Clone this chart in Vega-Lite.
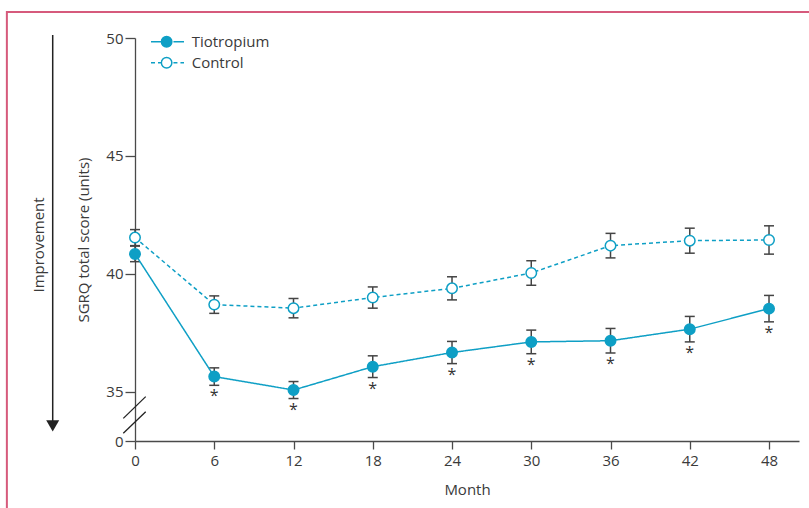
{
  "$schema": "https://vega.github.io/schema/vega-lite/v6.json",
  "width": 664,
  "height": 403,
  "autosize": {"type": "none"},
  "padding": {"left": 135, "top": 38, "right": 10, "bottom": 67},
  "background": "white",
  "config": {
    "font": "Open Sans",
    "view": {"stroke": null},
    "axis": {
      "grid": false,
      "domainColor": "#4a4a4a",
      "tickColor": "#4a4a4a",
      "domainWidth": 1.3,
      "tickWidth": 1.3,
      "labelFontSize": 15,
      "labelColor": "#3a3a3a",
      "titleFontSize": 15,
      "titleFontWeight": "normal",
      "titleColor": "#3a3a3a"
    }
  },
  "data": {
    "values": [
      {"month": 0, "group": "Tiotropium", "mean": 40.85, "lo": 40.52, "hi": 41.18, "star": ""},
      {"month": 6, "group": "Tiotropium", "mean": 35.65, "lo": 35.28, "hi": 36.02, "star": "*"},
      {"month": 12, "group": "Tiotropium", "mean": 35.08, "lo": 34.72, "hi": 35.44, "star": "*"},
      {"month": 18, "group": "Tiotropium", "mean": 36.07, "lo": 35.61, "hi": 36.53, "star": "*"},
      {"month": 24, "group": "Tiotropium", "mean": 36.67, "lo": 36.2, "hi": 37.14, "star": "*"},
      {"month": 30, "group": "Tiotropium", "mean": 37.12, "lo": 36.62, "hi": 37.62, "star": "*"},
      {"month": 36, "group": "Tiotropium", "mean": 37.17, "lo": 36.65, "hi": 37.69, "star": "*"},
      {"month": 42, "group": "Tiotropium", "mean": 37.66, "lo": 37.12, "hi": 38.2, "star": "*"},
      {"month": 48, "group": "Tiotropium", "mean": 38.53, "lo": 37.97, "hi": 39.09, "star": "*"},
      {"month": 0, "group": "Control", "mean": 41.54, "lo": 41.2, "hi": 41.88, "star": ""},
      {"month": 6, "group": "Control", "mean": 38.7, "lo": 38.33, "hi": 39.07, "star": ""},
      {"month": 12, "group": "Control", "mean": 38.55, "lo": 38.14, "hi": 38.96, "star": ""},
      {"month": 18, "group": "Control", "mean": 39.0, "lo": 38.55, "hi": 39.45, "star": ""},
      {"month": 24, "group": "Control", "mean": 39.39, "lo": 38.9, "hi": 39.88, "star": ""},
      {"month": 30, "group": "Control", "mean": 40.04, "lo": 39.52, "hi": 40.56, "star": ""},
      {"month": 36, "group": "Control", "mean": 41.2, "lo": 40.68, "hi": 41.72, "star": ""},
      {"month": 42, "group": "Control", "mean": 41.41, "lo": 40.88, "hi": 41.94, "star": ""},
      {"month": 48, "group": "Control", "mean": 41.44, "lo": 40.84, "hi": 42.04, "star": ""}
    ]
  },
  "layer": [
    {
      "data": {"values": [{}]},
      "mark": {"type": "rect", "fill": null, "stroke": "#d65a7c", "strokeWidth": 2, "clip": false},
      "encoding": {
        "x": {"datum": -9.7, "type": "quantitative", "scale": {"domain": [0, 50.27], "nice": false, "zero": false}, "axis": {"values": [0, 6, 12, 18, 24, 30, 36, 42, 48], "title": "Month", "tickSize": 8, "labelPadding": 4, "titlePadding": 14, "labelAngle": 0, "labelFlush": false}},
        "x2": {"datum": 80},
        "y": {"datum": 51.1, "type": "quantitative", "scale": {"domain": [32.92, 50], "nice": false, "zero": false}, "axis": {"values": [32.92, 35, 40, 45, 50], "labelExpr": "datum.value < 34 ? '0' : datum.label", "title": "SGRQ total score (units)", "tickSize": 10, "labelPadding": 2, "titlePadding": 14}},
        "y2": {"datum": 20}
      }
    },
    {
      "data": {"values": [{}]},
      "mark": {"type": "rule", "color": "#222222", "strokeWidth": 1.5, "clip": false},
      "encoding": {
        "x": {"datum": -6.23, "type": "quantitative"},
        "y": {"datum": 50.13, "type": "quantitative"},
        "y2": {"datum": 33.7}
      }
    },
    {
      "data": {"values": [{}]},
      "mark": {"type": "point", "shape": "triangle-down", "filled": true, "color": "#222222", "size": 169, "opacity": 1, "clip": false},
      "encoding": {
        "x": {"datum": -6.23, "type": "quantitative"},
        "y": {"datum": 33.56, "type": "quantitative"}
      }
    },
    {
      "data": {"values": [{}]},
      "mark": {"type": "text", "text": "Improvement", "angle": 270, "align": "center", "baseline": "middle", "fontSize": 15, "color": "#3a3a3a", "clip": false},
      "encoding": {
        "x": {"datum": -7.3, "type": "quantitative"},
        "y": {"datum": 41.23, "type": "quantitative"}
      }
    },
    {
      "data": {"values": [{}]},
      "mark": {"type": "rule", "color": "#222222", "strokeWidth": 1.3, "clip": false},
      "encoding": {
        "x": {"datum": -0.886, "type": "quantitative"},
        "y": {"datum": 33.88, "type": "quantitative"},
        "x2": {"datum": 0.81},
        "y2": {"datum": 34.8}
      }
    },
    {
      "data": {"values": [{}]},
      "mark": {"type": "rule", "color": "#222222", "strokeWidth": 1.3, "clip": false},
      "encoding": {
        "x": {"datum": -0.886, "type": "quantitative"},
        "y": {"datum": 33.25, "type": "quantitative"},
        "x2": {"datum": 0.81},
        "y2": {"datum": 34.16}
      }
    },
    {
      "mark": {"type": "rule", "color": "#444444", "strokeWidth": 1.5},
      "encoding": {
        "x": {"field": "month", "type": "quantitative"},
        "y": {"field": "lo", "type": "quantitative"},
        "y2": {"field": "hi"}
      }
    },
    {
      "mark": {"type": "tick", "orient": "horizontal", "color": "#444444", "size": 10, "thickness": 1.5, "opacity": 1},
      "encoding": {
        "x": {"field": "month", "type": "quantitative"},
        "y": {"field": "lo", "type": "quantitative"}
      }
    },
    {
      "mark": {"type": "tick", "orient": "horizontal", "color": "#444444", "size": 10, "thickness": 1.5, "opacity": 1},
      "encoding": {
        "x": {"field": "month", "type": "quantitative"},
        "y": {"field": "hi", "type": "quantitative"}
      }
    },
    {
      "mark": {"type": "line", "color": "#0e9fc5", "strokeWidth": 1.5},
      "encoding": {
        "x": {"field": "month", "type": "quantitative"},
        "y": {"field": "mean", "type": "quantitative"},
        "strokeDash": {
          "field": "group",
          "type": "nominal",
          "sort": ["Tiotropium", "Control"],
          "scale": {"range": [[1, 0], [4, 3]]},
          "legend": {
            "title": null,
            "orient": "none",
            "legendX": 15,
            "legendY": -6.8,
            "padding": 0,
            "symbolType": "M-1,0H-0.36M0.36,0H1",
            "symbolSize": 1089,
            "symbolStrokeColor": "#0e9fc5",
            "symbolStrokeWidth": 1.5,
            "clipHeight": 21,
            "rowPadding": 0,
            "labelOffset": 6.7,
            "labelFontSize": 15,
            "labelColor": "#3a3a3a"
          }
        }
      }
    },
    {
      "mark": {"type": "point", "shape": "circle", "filled": true, "size": 110, "stroke": "#0e9fc5", "strokeWidth": 1.5, "opacity": 1},
      "encoding": {
        "x": {"field": "month", "type": "quantitative"},
        "y": {"field": "mean", "type": "quantitative"},
        "fill": {
          "field": "group",
          "type": "nominal",
          "scale": {"domain": ["Tiotropium", "Control"], "range": ["#0e9fc5", "#ffffff"]},
          "legend": {
            "title": null,
            "orient": "none",
            "legendX": 25.6,
            "legendY": -6.8,
            "padding": 0,
            "symbolType": "circle",
            "symbolSize": 110,
            "symbolStrokeColor": "#0e9fc5",
            "symbolStrokeWidth": 1.5,
            "clipHeight": 21,
            "rowPadding": 0,
            "labelExpr": "''"
          }
        }
      }
    },
    {
      "transform": [{"filter": "datum.star != ''"}],
      "mark": {"type": "text", "baseline": "top", "align": "center", "dy": 3, "fontSize": 16, "color": "#333333"},
      "encoding": {
        "x": {"field": "month", "type": "quantitative"},
        "y": {"field": "lo", "type": "quantitative"},
        "text": {"field": "star"}
      }
    }
  ]
}
